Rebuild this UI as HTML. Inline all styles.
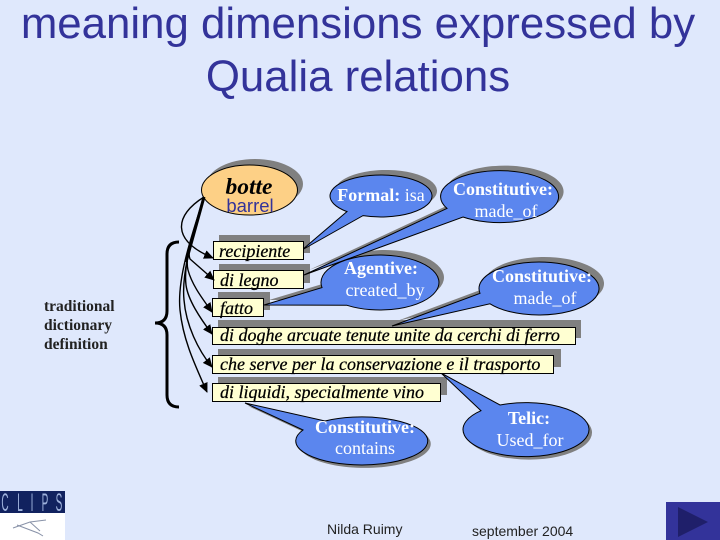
<!DOCTYPE html>
<html><head><meta charset="utf-8"><style>html,body{margin:0;padding:0;background:#dfe8fc}svg{display:block}</style></head><body>
<svg width="720" height="540" viewBox="0 0 720 540" xmlns="http://www.w3.org/2000/svg">
<defs>
<marker id="a" markerUnits="userSpaceOnUse" markerWidth="11" markerHeight="10" refX="9" refY="4.500" orient="auto"><path d="M0 0L10 4.500L0 9Z" fill="#000"/></marker>
</defs>
<rect width="720" height="540" fill="#dfe8fc"/>
<g font-family="'Liberation Sans',sans-serif" font-size="43.800" fill="#33339a" text-anchor="middle">
<text x="358" y="38">meaning dimensions expressed by</text>
<text x="358" y="91">Qualia relations</text>
</g>
<!-- shadows -->
<g fill="#808080">
<ellipse cx="255" cy="184" rx="48" ry="25"/>
<rect x="219" y="235" width="91" height="18"/>
<rect x="219" y="264" width="91" height="19"/>
<rect x="218" y="292" width="52" height="18"/>
<rect x="218" y="320" width="363" height="18"/>
<rect x="218" y="349" width="343" height="18"/>
<rect x="218" y="377" width="229" height="18"/>
<g transform="translate(5,-5)">
<path d="M302 250L347 211.600A51 21 0 1 1 363 215.600Z"/>
<path d="M304 275L447 208.400A59 26 0 1 1 463 217Z"/>
<path d="M264 305L322 287.600A59 27.500 0 1 1 347 305.300Z"/>
<path d="M392 326L480 293.300A60 26.500 0 1 1 490 303.800Z"/>
</g>
<g transform="translate(3,3)">
<path d="M245 403L325 421A66 24 0 1 1 303 430Z"/>
<path d="M441 373L500 405A63 27 0 1 1 481 410.700Z"/>
</g>
</g>
<!-- bubbles -->
<g fill="#5b86ee" stroke="#000" stroke-width="1">
<path d="M302 250L347 211.600A51 21 0 1 1 363 215.600Z"/>
<path d="M304 275L447 208.400A59 26 0 1 1 463 217Z"/>
<path d="M264 305L322 287.600A59 27.500 0 1 1 347 305.300Z"/>
<path d="M392 326L480 293.300A60 26.500 0 1 1 490 303.800Z"/>
<path d="M245 403L325 421A66 24 0 1 1 303 430Z"/>
<path d="M441 373L500 405A63 27 0 1 1 481 410.700Z"/>
</g>
<ellipse cx="249.500" cy="190" rx="48" ry="25" fill="#fdd086" stroke="#000"/>
<!-- boxes -->
<g fill="#ffffd2" stroke="#000" stroke-width="1">
<rect x="213.500" y="241.500" width="90" height="18"/>
<rect x="213.500" y="270.500" width="90" height="18"/>
<rect x="212.500" y="298.500" width="51" height="18"/>
<rect x="212.500" y="327.500" width="363" height="17"/>
<rect x="212.500" y="355.500" width="341" height="18"/>
<rect x="212.500" y="383.500" width="228" height="18"/>
</g>
<!-- connectors -->
<g fill="none" stroke="#000" stroke-width="1.400" marker-end="url(#a)">
<path d="M204 197C175 215 170 240 213 258"/>
<path d="M204 197C196 225 186 250 190 259L214 280"/>
<path d="M204 197C196 225 184 255 188 270C192 285 202 298 212 312"/>
<path d="M204 197C196 225 183 260 186 285C188 300 200 318 212 334"/>
<path d="M204 197C195 230 181 270 184 300C186 325 198 350 212 367"/>
<path d="M204 197C190 240 177 280 180 310C183 340 195 365 207 392"/>
</g>
<path d="M204 197L186 262" stroke="#000" stroke-width="3" fill="none"/>
<path d="M179 242C171 242 167 246 167 254V311C167 319 163 323 155 323C163 323 167 327 167 335V395C167 403 171 407 179 407" fill="none" stroke="#000" stroke-width="3"/>
<!-- texts -->
<g font-family="'Liberation Serif',serif" font-size="18" font-style="italic" fill="#000" stroke="#000" stroke-width=".25">
<text x="219" y="257">recipiente</text>
<text x="220" y="286">di legno</text>
<text x="220" y="314">fatto</text>
<text x="220" y="341">di doghe arcuate tenute unite da cerchi di ferro</text>
<text x="220" y="370">che serve per la conservazione e il trasporto</text>
<text x="220" y="398">di liquidi, specialmente vino</text>
</g>
<text x="249" y="194" font-family="'Liberation Serif',serif" font-size="23.500" font-weight="bold" font-style="italic" text-anchor="middle">botte</text>
<text x="250" y="212" font-family="'Liberation Sans',sans-serif" font-size="18.500" fill="#33339a" text-anchor="middle">barrel</text>
<g font-family="'Liberation Serif',serif" font-size="18" fill="#fff" text-anchor="middle">
<text x="381" y="201"><tspan font-weight="bold">Formal:</tspan> isa</text>
<text x="503" y="195" font-weight="bold">Constitutive:</text>
<text x="506" y="217">made_of</text>
<text x="381" y="274" font-weight="bold">Agentive:</text>
<text x="385" y="296">created_by</text>
<text x="542" y="282" font-weight="bold">Constitutive:</text>
<text x="545" y="304">made_of</text>
<text x="365" y="433" font-weight="bold">Constitutive:</text>
<text x="365" y="454">contains</text>
<text x="529" y="424" font-weight="bold">Telic:</text>
<text x="530" y="446">Used_for</text>
</g>
<g font-family="'Liberation Serif',serif" font-size="15.500" font-weight="bold" fill="#222">
<text x="44" y="311">traditional</text>
<text x="44" y="330">dictionary</text>
<text x="44" y="349">definition</text>
</g>
<g font-family="'Liberation Sans',sans-serif" font-size="14" fill="#222">
<text x="327" y="534">Nilda Ruimy</text>
<text x="472" y="536">september 2004</text>
</g>
<!-- logo -->
<rect x="0" y="491" width="65" height="22" fill="#11225f"/>
<rect x="0" y="513" width="65" height="27" fill="#fff"/>
<g font-family="'Liberation Sans',sans-serif" font-size="25" fill="#9fb2dc" text-anchor="middle">
<text transform="translate(5,511) scale(.4,1)">C</text><text transform="translate(20,511) scale(.4,1)">L</text><text transform="translate(32,511) scale(.4,1)">I</text><text transform="translate(45,511) scale(.4,1)">P</text><text transform="translate(59,511) scale(.4,1)">S</text>
</g>
<path d="M13 528L30 522L46 520M17 525L38 533L43 536M30 522L40 531" stroke="#8892a8" stroke-width="1" fill="none"/>
<!-- nav button -->
<rect x="666" y="502" width="54" height="38" fill="#33339a"/>
<path d="M678 507L708 522L678 537Z" fill="#1f1f6a"/>
</svg>
</body></html>
